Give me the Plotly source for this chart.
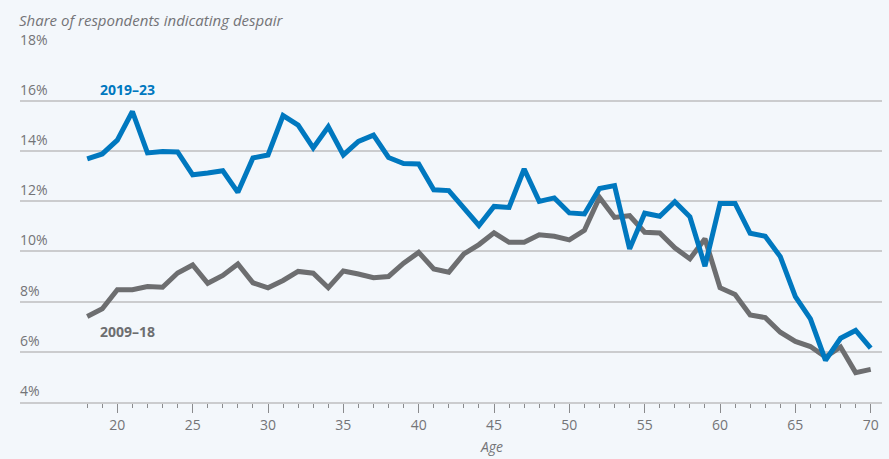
import plotly.graph_objects as go

ages = list(range(18, 71))

despair_2019_23 = [13.68, 13.88, 14.43, 15.57, 13.92, 13.98, 13.96, 13.05, 13.12, 13.21,
                   12.35, 13.72, 13.84, 15.41, 15.03, 14.12, 14.96, 13.84, 14.38, 14.63,
                   13.74, 13.50, 13.48, 12.45, 12.42, 11.73, 11.03, 11.79, 11.75, 13.28,
                   11.99, 12.13, 11.53, 11.49, 12.50, 12.62, 10.10, 11.52, 11.40, 11.98,
                   11.38, 9.41, 11.91, 11.91, 10.72, 10.60, 9.79, 8.20, 7.31, 5.66,
                   6.54, 6.85, 6.15]

despair_2009_18 = [7.41, 7.71, 8.47, 8.47, 8.60, 8.57, 9.14, 9.46, 8.73, 9.04,
                   9.50, 8.75, 8.55, 8.84, 9.20, 9.13, 8.55, 9.22, 9.10, 8.95,
                   9.00, 9.53, 9.96, 9.30, 9.17, 9.90, 10.27, 10.74, 10.36, 10.36,
                   10.66, 10.60, 10.46, 10.84, 12.15, 11.35, 11.42, 10.76, 10.73, 10.14,
                   9.70, 10.50, 8.55, 8.28, 7.47, 7.36, 6.78, 6.41, 6.21, 5.79,
                   6.19, 5.17, 5.30]

y_ticks = [4, 6, 8, 10, 12, 14, 16, 18]
y_tick_labels = ["4%", "6%", "8%", "10%", "12%", "14%", "16%", "18%"]
x_ticks = [20, 25, 30, 35, 40, 45, 50, 55, 60, 65, 70]
x_tick_labels = ["20", "25", "30", "35", "40", "45", "50", "55", "60", "65", "70"]

BLUE = "#0078BF"
GRAY = "#6D6E70"
TEXT = "#737477"
GRID = "#CBCCCE"
BG = "#F3F7FB"
FONT = "Open Sans"

fig = go.Figure()
fig.add_trace(go.Scatter(x=ages, y=despair_2009_18, mode="lines",
                         line=dict(color=GRAY, width=5), name="2009–18",
                         hoverinfo="skip"))
fig.add_trace(go.Scatter(x=ages, y=despair_2019_23, mode="lines",
                         line=dict(color=BLUE, width=5), name="2019–23",
                         hoverinfo="skip"))

annotations = []
for v, t in zip(y_ticks, y_tick_labels):
    annotations.append(dict(x=0, xref="paper", y=v, yref="y", text=t,
                            xanchor="left", yanchor="bottom", showarrow=False,
                            xshift=-2, yshift=0,
                            font=dict(family=FONT, size=14, color=TEXT)))

annotations += [
    dict(x=0, xref="paper", y=1, yref="paper", yshift=30, text="<i>Share of respondents indicating despair</i>",
         xanchor="left", yanchor="middle", showarrow=False, xshift=-3,
         font=dict(family=FONT, size=15, color=TEXT)),
    dict(x=18.7, y=16.45, text="<b>2019–23</b>", showarrow=False,
         xanchor="left", yanchor="middle",
         font=dict(family=FONT, size=14, color=BLUE)),
    dict(x=18.7, y=6.8, text="<b>2009–18</b>", showarrow=False,
         xanchor="left", yanchor="middle",
         font=dict(family=FONT, size=14, color=GRAY)),
    dict(x=44.8, y=0, yref="paper", yshift=-44, text="<i>Age</i>", showarrow=False,
         xanchor="center", yanchor="middle",
         font=dict(family=FONT, size=14, color=TEXT)),
]

fig.update_layout(
    width=889, height=459,
    paper_bgcolor=BG, plot_bgcolor=BG,
    margin=dict(l=20, r=7, t=50, b=57),
    showlegend=False,
    annotations=annotations,
    xaxis=dict(range=[13.54, 70.75], tickmode="array", tickvals=x_ticks,
               ticktext=x_tick_labels, ticks="outside", ticklen=9, tickwidth=1,
               tickcolor="#8A8B8D", showgrid=False, zeroline=False,
               showline=True, linecolor=GRID, linewidth=1.5,
               tickfont=dict(family=FONT, size=14, color=TEXT),
               minor=dict(tickmode="array", tickvals=ages, ticks="outside",
                          ticklen=4, tickwidth=1, tickcolor="#8A8B8D", showgrid=False)),
    yaxis=dict(range=[4, 18.02], tickmode="array", tickvals=y_ticks,
               showticklabels=False, showgrid=True, gridcolor=GRID, gridwidth=1.5,
               zeroline=False, showline=False, ticks=""),
)

fig.write_html("out.html", config={"displayModeBar": False},
               post_script="document.body.style.margin='0px';document.body.style.background='%s';" % BG)
